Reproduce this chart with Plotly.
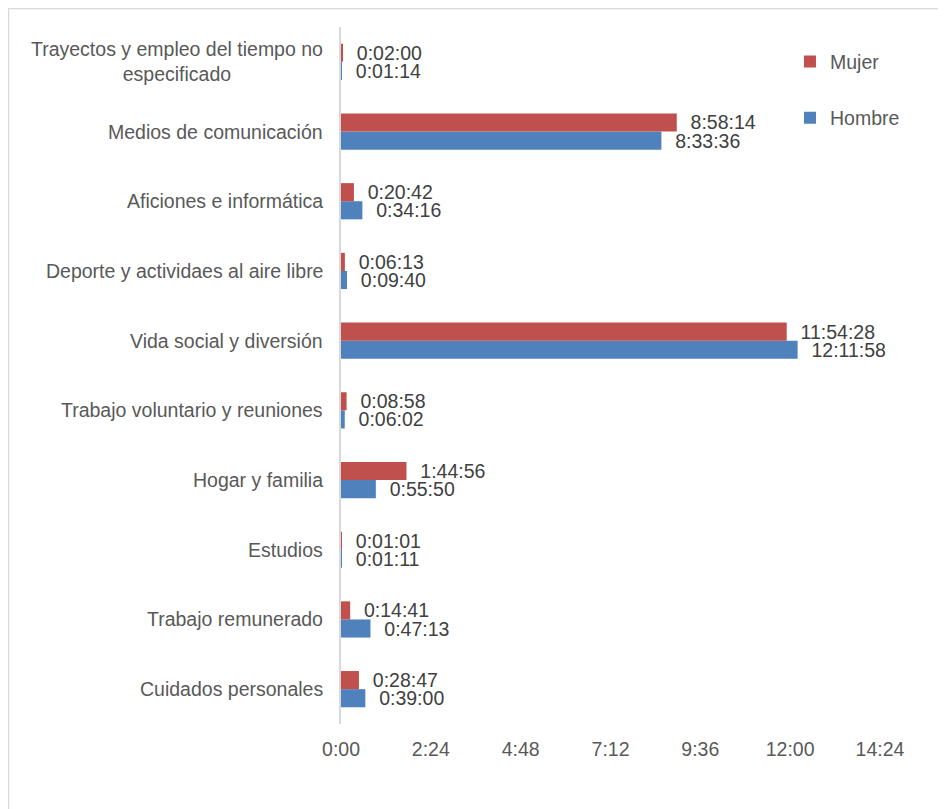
import plotly.graph_objects as go

categories = [
    "Cuidados personales",
    "Trabajo remunerado",
    "Estudios",
    "Hogar y familia",
    "Trabajo voluntario y reuniones",
    "Vida social y diversión",
    "Deporte y actividaes al aire libre",
    "Aficiones e informática",
    "Medios de comunicación",
    "Trayectos y empleo del tiempo no<br>especificado",
]
mujer = ["0:28:47", "0:14:41", "0:01:01", "1:44:56", "0:08:58",
         "11:54:28", "0:06:13", "0:20:42", "8:58:14", "0:02:00"]
hombre = ["0:39:00", "0:47:13", "0:01:11", "0:55:50", "0:06:02",
          "12:11:58", "0:09:40", "0:34:16", "8:33:36", "0:01:14"]
tick_vals = [0, 2.4, 4.8, 7.2, 9.6, 12.0, 14.4]
tick_text = ["0:00", "2:24", "4:48", "7:12", "9:36", "12:00", "14:24"]


def to_hours(s):
    h, m, sec = (int(p) for p in s.split(":"))
    return h + m / 60 + sec / 3600


FONT = "Liberation Sans, Arial, sans-serif"
FS = 19.5
NB = "\u00a0\u00a0"

fig = go.Figure()
for name, vals, color, rank in [("Hombre", hombre, "#4F81BD", 2),
                                ("Mujer", mujer, "#C0504D", 1)]:
    fig.add_trace(go.Bar(
        name=name, orientation="h", y=categories,
        x=[to_hours(v) for v in vals],
        text=[NB + v for v in vals], textposition="outside",
        constraintext="none", cliponaxis=False,
        textfont=dict(family=FONT, size=FS, color="#404040"),
        marker=dict(color=color, line=dict(width=0)),
        legendgroup=name, legendrank=rank,
    ))

for c in categories:
    fig.add_annotation(x=0, xref="x", y=c, yref="y", text=c, showarrow=False,
                       xanchor="right", align="center", xshift=-16,
                       font=dict(family=FONT, size=FS, color="#595959"))

fig.add_shape(type="rect", xref="paper", yref="paper",
              x0=-0.617, x1=1.3, y0=-0.3, y1=1.0265,
              line=dict(color="#D9D9D9", width=1.5), layer="below")

fig.update_layout(
    width=946, height=809,
    margin=dict(l=333, r=74, t=19, b=93),
    paper_bgcolor="white", plot_bgcolor="white",
    barmode="group", bargap=0.48, bargroupgap=0,
    font=dict(family=FONT, size=FS, color="#595959"),
    showlegend=True,
    legend=dict(x=0.833, y=0.978, xanchor="left", yanchor="top",
                traceorder="grouped", tracegroupgap=28,
                font=dict(family=FONT, size=FS, color="#595959"),
                bgcolor="rgba(0,0,0,0)"),
    xaxis=dict(range=[0, 14.4], tickvals=tick_vals, ticktext=tick_text,
               showgrid=False, zeroline=False, showline=False, ticks="",
               ticklabelstandoff=11,
               tickfont=dict(family=FONT, size=FS, color="#595959")),
    yaxis=dict(showticklabels=False, showgrid=False, zeroline=False,
               showline=True, linecolor="#D9D9D9", linewidth=2, ticks=""),
)

fig.write_html("out.html")
